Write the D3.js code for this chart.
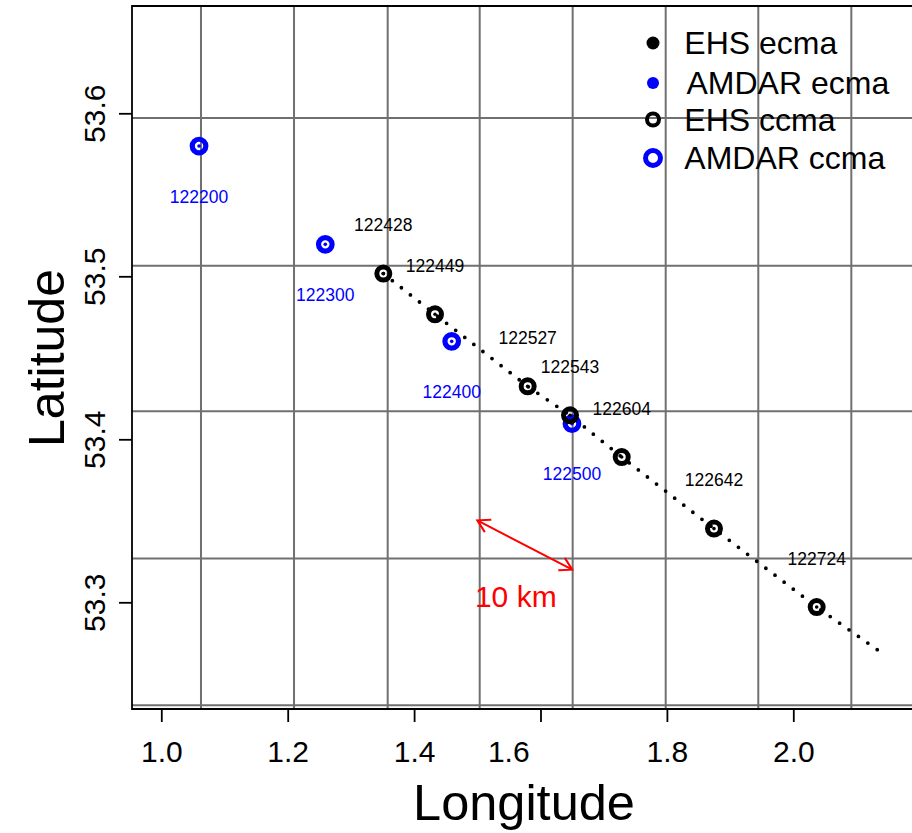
<!DOCTYPE html>
<html>
<head>
<meta charset="utf-8">
<script src="https://cdn.jsdelivr.net/npm/d3@7"></script>
<style>
  body { margin: 0; background: #fff; }
  svg text { font-family: "Liberation Sans", Arial, Helvetica, sans-serif; }
</style>
</head>
<body>
<div id="master"></div>
<script>
// EHS track points (ccma) and their times
const ehsLon = [1.3513, 1.4331, 1.5797, 1.6467, 1.7285, 1.8745, 2.0370]
const ehsLat = [53.5017, 53.4767, 53.4325, 53.4147, 53.3891, 53.3452, 53.2971]
const ehsTime = ["122428", "122449", "122527", "122543", "122604", "122642", "122724"]

// AMDAR points (ccma) and their times
const amdarLon = [1.0597, 1.2595, 1.4595, 1.6498]
const amdarLat = [53.5799, 53.5196, 53.4601, 53.4096]
const amdarTime = ["122200", "122300", "122400", "122500"]

// dotted track (ecma)
const trackLon = [1.3513, 1.4331, 1.5797, 1.6467, 1.7285, 1.8745, 2.0370, 2.1388]
const trackLat = [53.5017, 53.4767, 53.4325, 53.4147, 53.3891, 53.3452, 53.2971, 53.2693]

// map grid lines
const gridLon = [1.0628, 1.2100, 1.3582, 1.5038, 1.6509, 1.7981, 1.9446, 2.0918]
const gridLat = [53.5971, 53.5065, 53.4172, 53.3268, 53.2368]

// axes (the 1.6 label sits left of its tick in the original)
const xTicks = [1.0, 1.2, 1.4, 1.6, 1.8, 2.0]
const xLabelAt = [1.0, 1.2, 1.4, 1.549, 1.8, 2.0]
const yTicks = [53.3, 53.4, 53.5, 53.6]

// scale arrow
const arrowLon = [1.5, 1.6503]
const arrowLat = [53.3503, 53.3200]
const arrowText = "10 km"
const arrowTextLon = 1.5609
const arrowTextLat = 53.2971

const legendLabels = ["EHS ecma", "AMDAR ecma", "EHS ccma", "AMDAR ccma"]
const legendColors = ["#000000", "#0000ff", "#000000", "#0000ff"]
const legendFilled = [true, true, false, false]

let w = 912, h = 833
let plotLeft = 132, plotTop = 6, plotBottom = 709

let svg = d3.select("#master").append("svg")
  .attr("width", w).attr("height", h)

let x = d3.scaleLinear().domain([1.0, 2.0]).range([161.3, 793.3])
let y = d3.scaleLinear().domain([53.3, 53.6]).range([602.3, 113.3])

// grid
svg.append("g").selectAll("line").data(gridLon).enter().append("line")
  .attr("x1", d => x(d)).attr("x2", d => x(d))
  .attr("y1", plotTop).attr("y2", plotBottom)
  .attr("stroke", "#707070").attr("stroke-width", 2)
svg.append("g").selectAll("line").data(gridLat).enter().append("line")
  .attr("x1", plotLeft).attr("x2", w)
  .attr("y1", d => y(d)).attr("y2", d => y(d))
  .attr("stroke", "#707070").attr("stroke-width", 2)

// box (right side falls outside the picture)
svg.append("path")
  .attr("d", `M${w + 5},${plotTop}H${plotLeft}V${plotBottom}H${w + 5}`)
  .attr("fill", "none").attr("stroke", "#000").attr("stroke-width", 1.8)

// axes
let xAxis = d3.axisBottom(x).tickValues(xTicks).tickFormat(d3.format(".1f")).tickSize(13)
let gx = svg.append("g").attr("transform", `translate(0,${plotBottom})`).call(xAxis)
gx.select(".domain").remove()
gx.selectAll("line").attr("stroke", "#000").attr("stroke-width", 1.8)
gx.selectAll("text").attr("y", 52.5).attr("dy", null)
  .attr("x", (d, i) => x(xLabelAt[i]) - x(d))
  .attr("font-size", 30).attr("fill", "#000")
  .attr("font-family", "Liberation Sans, Arial, sans-serif")

let yAxis = d3.axisLeft(y).tickValues(yTicks).tickFormat(d3.format(".1f")).tickSize(13)
let gy = svg.append("g").attr("transform", `translate(${plotLeft},0)`).call(yAxis)
gy.select(".domain").remove()
gy.selectAll("line").attr("stroke", "#000").attr("stroke-width", 1.8)
gy.selectAll("text")
  .attr("x", null).attr("dy", null)
  .attr("transform", "translate(-27,0) rotate(-90)")
  .attr("text-anchor", "middle")
  .attr("font-size", 30).attr("fill", "#000")
  .attr("font-family", "Liberation Sans, Arial, sans-serif")

// axis titles
svg.append("text").attr("x", 524).attr("y", 820)
  .attr("text-anchor", "middle").attr("font-size", 50.5).text("Longitude")
svg.append("text").attr("transform", "translate(64,358) rotate(-90)")
  .attr("text-anchor", "middle").attr("font-size", 50).text("Latitude")

let amdar = amdarLon.map((d, i) => ({ lon: d, lat: amdarLat[i], t: amdarTime[i] }))
let ehs = ehsLon.map((d, i) => ({ lon: d, lat: ehsLat[i], t: ehsTime[i] }))

// AMDAR rings
svg.append("g").selectAll("circle").data(amdar).enter().append("circle")
  .attr("cx", d => x(d.lon)).attr("cy", d => y(d.lat)).attr("r", 6.8)
  .attr("fill", "none").attr("stroke", "#0000ff").attr("stroke-width", 5.2)
svg.append("g").selectAll("circle").data(amdar).enter().append("circle")
  .attr("cx", d => x(d.lon)).attr("cy", d => y(d.lat)).attr("r", 1.8)
  .attr("fill", "#0000ff")

// dotted track
let track = trackLon.map((d, i) => [d, trackLat[i]])
svg.append("path")
  .attr("d", d3.line().x(d => x(d[0])).y(d => y(d[1]))(track))
  .attr("fill", "none").attr("stroke", "#000").attr("stroke-width", 3.8)
  .attr("stroke-linecap", "round").attr("stroke-dasharray", "0 11.5")

// EHS rings
svg.append("g").selectAll("circle").data(ehs).enter().append("circle")
  .attr("cx", d => x(d.lon)).attr("cy", d => y(d.lat)).attr("r", 6.5)
  .attr("fill", "none").attr("stroke", "#000").attr("stroke-width", 5)
svg.append("g").selectAll("circle").data(ehs).enter().append("circle")
  .attr("cx", d => x(d.lon)).attr("cy", d => y(d.lat)).attr("r", 1.8)
  .attr("fill", "#000")

// time labels
svg.append("g").selectAll("text").data(ehs).enter().append("text")
  .attr("x", d => x(d.lon)).attr("y", d => y(d.lat) - 42.5)
  .attr("text-anchor", "middle").attr("font-size", 17.5).attr("fill", "#000")
  .text(d => d.t)
svg.append("g").selectAll("text").data(amdar).enter().append("text")
  .attr("x", d => x(d.lon)).attr("y", d => y(d.lat) + 56.5)
  .attr("text-anchor", "middle").attr("font-size", 17.5).attr("fill", "#0000ff")
  .text(d => d.t)

// 10 km arrow
let ax1 = x(arrowLon[0]), ay1 = y(arrowLat[0]), ax2 = x(arrowLon[1]), ay2 = y(arrowLat[1])
let ang = Math.atan2(ay2 - ay1, ax2 - ax1)
let headLen = 14, headAng = Math.PI / 6
let head = (px, py, a) => `M${px + headLen * Math.cos(a - headAng)},${py + headLen * Math.sin(a - headAng)}L${px},${py}L${px + headLen * Math.cos(a + headAng)},${py + headLen * Math.sin(a + headAng)}`
svg.append("path")
  .attr("d", `M${ax1},${ay1}L${ax2},${ay2}` + head(ax1, ay1, ang) + head(ax2, ay2, ang + Math.PI))
  .attr("fill", "none").attr("stroke", "#ff0000").attr("stroke-width", 2)
svg.append("text").attr("x", x(arrowTextLon)).attr("y", y(arrowTextLat))
  .attr("text-anchor", "middle").attr("font-size", 30).attr("fill", "#ff0000")
  .text(arrowText)

// legend
let legendY = [43, 83, 119.5, 158]
let legend = svg.append("g").attr("id", "legend")
legendLabels.forEach((lab, i) => {
  if (legendFilled[i]) {
    legend.append("circle").attr("cx", 653).attr("cy", legendY[i]).attr("r", i == 0 ? 6.5 : 6)
      .attr("fill", legendColors[i])
  } else {
    legend.append("circle").attr("cx", 653).attr("cy", legendY[i]).attr("r", i == 2 ? 6 : 7.5)
      .attr("fill", "none").attr("stroke", legendColors[i]).attr("stroke-width", i == 2 ? 4 : 5)
  }
  legend.append("text").attr("x", i == 1 ? 686.5 : 684.3).attr("y", legendY[i] + 11.4)
    .attr("font-size", 32).attr("fill", "#000").text(lab)
})
</script>
</body>
</html>
